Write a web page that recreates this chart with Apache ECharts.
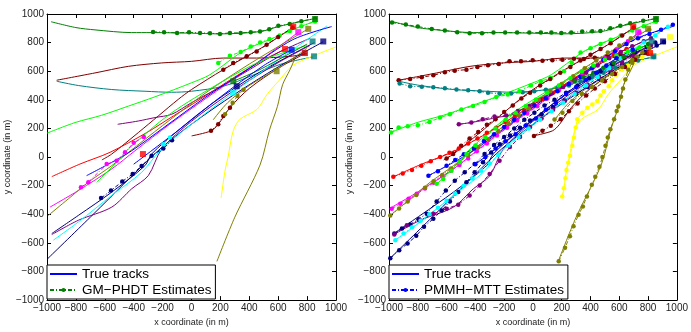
<!DOCTYPE html>
<html>
<head>
<meta charset="utf-8">
<script src="https://cdn.jsdelivr.net/npm/echarts@6/dist/echarts.min.js"></script>
<style>
  html, body { margin: 0; padding: 0; background: #fff; }
  #chart { width: 691px; height: 332px; }
</style>
</head>
<body>
<div id="chart"></div>
<script>
// axis ticks (both panels)
const xTicks = [-1000, -800, -600, -400, -200, 0, 200, 400, 600, 800, 1000];
const yTicks = [-1000, -800, -600, -400, -200, 0, 200, 400, 600, 800, 1000];

// ---- true tracks, [x, y] in m ----
const trkDarkGreen = [[-972,946],[-800,905],[-668,889],[-414,870],[-276,870],[0,866],[197,861],[474,877],[601,912],[751,947],[855,968]];
const trkDarkRed = [[-933,537],[-668,588],[-437,634],[-206,658],[0,669],[220,692],[451,692],[682,704],[800,722]];
const trkTeal = [[-933,530],[-783,500],[-552,472],[-322,460],[-137,453],[0,460],[220,495],[420,570],[620,650],[840,700]];
const trkLime = [[-1000,167],[-806,241],[-622,292],[-437,356],[-253,421],[0,519],[128,576],[336,727],[451,785],[566,831],[682,884],[855,950]];
const trkBrown = [[-620,-20],[-552,21],[-368,171],[-230,287],[-92,403],[0,472],[220,611],[382,704],[520,785],[700,905]];
const trkRed = [[-967,-137],[-772,-49],[-564,33],[-310,171],[-126,287],[59,403],[300,560],[500,680],[650,755]];
const trkPurple = [[-511,229],[-368,252],[-253,276],[-137,299],[0,380],[200,490],[400,610],[600,730],[820,830]];
const trkNavy = [[-995,-710],[-700,-420],[-400,-120],[-218,56],[0,230],[300,440],[600,630],[910,805]];
const trkNavy2 = [[-967,-535],[-783,-408],[-552,-245],[-322,-60],[-276,21],[-100,180],[150,380],[450,580],[700,720],[850,800]];
const trkPurple2 = [[-967,-542],[-783,-442],[-552,-350],[-414,-222],[-299,-130],[-206,56],[0,250],[300,470],[600,660],[820,780]];
const trkCyan = [[-956,-581],[-783,-454],[-552,-268],[-345,-107],[-218,44],[0,230],[300,460],[600,680],[938,917]];
const trkMagenta = [[-979,-350],[-783,-234],[-552,-83],[-391,44],[-150,230],[100,410],[400,620],[740,873]];
const trkOlive2 = [[-991,-408],[-852,-292],[-714,-176],[-552,-60],[-437,32],[-200,220],[100,450],[400,650],[808,896]];
const trkBlue = [[-726,-130],[-552,-37],[-414,44],[-200,200],[100,420],[400,620],[700,820],[970,912]];
const trkLime2 = [[-656,-176],[-507,-26],[-437,56],[-150,300],[200,520],[500,680],[800,780]];
const trkYellow = [[205,-285],[233,-90],[253,0],[288,181],[335,264],[453,333],[522,437],[612,542],[700,640],[850,710],[1000,770]];
const trkOlive = [[176,-729],[300,-420],[474,-56],[540,190],[595,355],[630,505],[682,611],[720,700]];
const trkDarkRed2 = [[1,148],[135,183],[185,229],[266,345],[400,480],[600,620],[790,727]];
const trkOlive3 = [[150,260],[250,380],[400,500],[600,620],[800,760]];
const trkDarkGreen2 = [[289,530],[450,600],[600,680],[800,790]];
const trkBlue2 = [[-400,-50],[-100,180],[200,420],[500,640],[693,750]];

// ---- PMMH-MTT estimates (right panel) ----
const estRDarkGreen = [[-979,940],[-883,926],[-800,912],[-703,896],[-612,884],[-526,873],[-440,866],[-354,866],[-274,870],[-193,870],[-110,870],[-25,870],[55,870],[128,870],[197,868],[266,870],[342,878],[412,880],[469,882],[538,900],[607,917],[676,935],[766,953],[855,968]];
const estRDarkRed = [[-933,537],[-853,546],[-772,558],[-692,572],[-612,592],[-543,604],[-462,611],[-386,630],[-312,641],[-237,651],[-163,669],[-83,669],[-2,676],[66,674],[135,676],[205,680],[285,688],[354,685],[430,695],[515,704],[607,715],[700,712],[800,722]];
const estRTeal = [[-926,514],[-853,495],[-772,491],[-692,488],[-612,481],[-531,472],[-450,467],[-370,460],[-312,449],[-232,444],[-152,444],[-71,453],[9,460],[90,470],[170,482],[250,500],[330,530],[410,560],[490,590],[570,625],[650,650],[730,675],[840,700]];
const estRLime = [[-986,171],[-933,206],[-870,215],[-800,222],[-719,245],[-646,276],[-577,299],[-497,333],[-416,356],[-336,384],[-255,419],[-175,437],[-94,460],[-14,500],[55,530],[124,553],[216,600],[270,660],[331,731],[400,760],[470,790],[540,820],[610,850],[690,885],[770,915],[855,945]];
const estRBrown = [[-600,-10],[-554,21],[-499,79],[-440,130],[-380,175],[-320,225],[-260,265],[-200,315],[-140,360],[-80,410],[-20,450],[50,500],[120,545],[190,590],[260,630],[330,675],[400,715],[470,755],[540,795],[620,850],[700,905]];
const estRRed = [[-970,-137],[-905,-115],[-840,-90],[-775,-60],[-710,-30],[-645,0],[-580,30],[-515,60],[-450,95],[-385,130],[-320,170],[-255,205],[-190,245],[-125,285],[-60,325],[5,365],[70,405],[140,450],[210,495],[280,545],[350,590],[420,635],[490,675],[560,715],[650,755]];
const estRPurple = [[-515,229],[-428,241],[-349,264],[-267,283],[-186,290],[-105,322],[-25,356],[50,400],[130,445],[210,490],[290,540],[370,590],[450,640],[530,690],[610,735],[690,775],[770,810],[820,830]];
const estRNavy = [[-991,-708],[-929,-651],[-871,-604],[-811,-551],[-757,-488],[-692,-431],[-634,-373],[-577,-310],[-519,-245],[-462,-176],[-405,-107],[-347,-37],[-290,32],[-230,90],[-160,150],[-90,205],[-20,255],[60,300],[140,350],[220,395],[300,440],[380,490],[460,545],[540,595],[620,645],[700,690],[780,735],[860,780],[910,805]];
const estRNavy2 = [[-963,-535],[-910,-500],[-853,-472],[-795,-435],[-738,-396],[-669,-310],[-605,-234],[-543,-165],[-474,-107],[-405,-49],[-336,21],[-270,85],[-200,140],[-130,200],[-60,260],[10,310],[80,360],[150,400],[230,450],[310,500],[390,550],[470,600],[550,650],[630,690],[710,730],[790,770],[850,800]];
const estRPurple2 = [[-963,-542],[-876,-477],[-784,-442],[-692,-396],[-600,-361],[-519,-333],[-440,-269],[-370,-199],[-301,-118],[-232,-26],[-160,70],[-90,140],[-20,210],[60,270],[140,330],[220,390],[300,450],[380,505],[460,560],[540,610],[620,660],[700,710],[820,780]];
const estRCyan = [[-956,-581],[-899,-535],[-840,-490],[-780,-445],[-720,-400],[-660,-355],[-600,-305],[-540,-255],[-480,-200],[-420,-150],[-360,-95],[-300,-45],[-240,15],[-170,80],[-100,140],[-30,200],[50,260],[130,320],[210,380],[290,440],[370,500],[450,560],[530,620],[610,690],[690,750],[770,800],[850,850],[938,910]];
const estRMagenta = [[-981,-361],[-922,-326],[-864,-292],[-807,-257],[-750,-220],[-690,-180],[-630,-135],[-570,-95],[-510,-55],[-450,-10],[-390,40],[-320,95],[-250,150],[-180,205],[-110,255],[-40,305],[30,355],[100,410],[180,465],[260,520],[340,575],[420,630],[500,690],[580,750],[660,810],[740,870]];
const estROlive2 = [[-991,-408],[-930,-360],[-870,-310],[-810,-265],[-750,-215],[-690,-170],[-630,-125],[-570,-80],[-510,-35],[-450,15],[-380,70],[-310,125],[-240,180],[-170,235],[-100,290],[-30,340],[40,400],[120,460],[200,510],[280,565],[360,620],[440,675],[520,730],[600,780],[680,830],[808,890]];
const estRBlue = [[-726,-130],[-660,-100],[-600,-60],[-540,-20],[-480,20],[-410,60],[-340,110],[-270,160],[-200,210],[-130,260],[-60,310],[10,360],[90,410],[170,460],[250,510],[330,560],[410,620],[490,680],[570,740],[650,790],[730,830],[810,860],[890,890],[972,924]];
const estRLime2 = [[-669,-187],[-623,-153],[-566,-95],[-508,-37],[-462,21],[-400,80],[-330,140],[-260,200],[-190,260],[-120,310],[-50,355],[20,400],[100,450],[180,500],[260,550],[340,600],[420,640],[500,680],[580,710],[660,740],[740,765],[800,780]];
const estRYellow = [[203,-275],[215,-218],[226,-148],[233,-90],[245,-40],[258,9],[274,79],[285,137],[297,206],[308,264],[343,310],[378,345],[412,368],[447,391],[469,430],[492,460],[527,495],[550,537],[580,575],[620,610],[660,640],[700,670],[760,700],[820,730]];
const estROlive = [[179,-729],[223,-634],[257,-553],[282,-484],[317,-403],[347,-345],[375,-275],[409,-194],[433,-137],[462,-67],[483,0],[504,79],[520,137],[538,194],[564,264],[582,322],[593,354],[612,421],[626,479],[642,542],[662,611],[690,660],[720,700]];
const estRDarkRed2 = [[7,148],[66,183],[124,218],[193,264],[250,320],[310,375],[370,430],[430,480],[500,530],[570,580],[640,630],[710,680],[790,727]];
const estROlive3 = [[150,262],[205,310],[274,391],[340,440],[410,490],[480,535],[550,580],[620,630],[690,680],[760,730],[808,760]];
const estRDarkGreen2 = [[289,530],[350,560],[420,590],[490,625],[560,660],[630,700],[700,740],[800,790]];
const estRBlue2 = [[-400,-50],[-330,0],[-260,60],[-190,110],[-120,160],[-50,220],[20,270],[90,330],[160,380],[230,440],[300,490],[370,540],[440,590],[510,640],[580,690],[693,750]];

// ---- GM-PHDT estimates (left panel, only partly found) ----
const estLDarkGreen = [[-266,875],[-190,873],[-100,868],[-17,872],[59,868],[128,866],[197,861],[266,868],[340,868],[410,873],[474,877],[538,893],[601,917],[680,930],[760,950],[855,968]];
const estLLime = [[185,658],[266,708],[340,735],[410,772],[475,800],[540,825],[610,850],[680,882],[760,915],[855,948]];
const estLBrown = [[220,611],[289,658],[382,704],[451,738],[520,785],[600,840],[700,905]];
const estLNavy2 = [[-626,-287],[-557,-234],[-479,-171],[-407,-118],[-345,-62],[-276,9],[-195,60],[-135,118]];
const estLMagenta = [[-765,-211],[-714,-176],[-587,-49],[-518,-26],[-460,33],[-400,100],[-330,140]];
const estLCyan = [[-195,90],[-149,137]];
const estLDarkRed2 = [[135,183],[185,229],[220,287],[266,345]];
const estLOlive3 = [[232,300],[285,380],[318,426],[360,470]];

// track end squares
const squaresLeft = [[-336,21],[289,530],[313,495],[589,600],[647,755],[693,750],[704,912],[739,873],[785,727],[808,896],[838,808],[848,704],[855,965],[912,808],[289,449]];
const squaresLeftColors = ['#ff0000','#008000','#000080','#808000','#ff0000','#0000ff','#ff0000','#ff00ff','#c00000','#808000','#008080','#008080','#008000','#000080','#00ffff'];
const squaresRight = [[697,912],[731,873],[800,896],[824,808],[904,808],[837,704],[814,727],[952,838],[855,965]];
const squaresRightColors = ['#ff0000','#ff00ff','#808000','#008080','#000080','#008080','#ff0000','#ffff00','#008000'];

const tracks = [
  { color: '#008000', path: trkDarkGreen, estR: estRDarkGreen, estL: estLDarkGreen },
  { color: '#800000', path: trkDarkRed, estR: estRDarkRed },
  { color: '#008080', path: trkTeal, estR: estRTeal },
  { color: '#00ff00', path: trkLime, estR: estRLime, estL: estLLime },
  { color: '#800000', path: trkBrown, estR: estRBrown, estL: estLBrown },
  { color: '#ff0000', path: trkRed, estR: estRRed },
  { color: '#800080', path: trkPurple, estR: estRPurple },
  { color: '#000080', path: trkNavy, estR: estRNavy },
  { color: '#000080', path: trkNavy2, estR: estRNavy2, estL: estLNavy2 },
  { color: '#800080', path: trkPurple2, estR: estRPurple2 },
  { color: '#00ffff', path: trkCyan, estR: estRCyan, estL: estLCyan },
  { color: '#ff00ff', path: trkMagenta, estR: estRMagenta, estL: estLMagenta },
  { color: '#808000', path: trkOlive2, estR: estROlive2 },
  { color: '#0000ff', path: trkBlue, estR: estRBlue },
  { color: '#00ff00', path: trkLime2, estR: estRLime2 },
  { color: '#ffff00', path: trkYellow, estR: estRYellow },
  { color: '#808000', path: trkOlive, estR: estROlive },
  { color: '#800000', path: trkDarkRed2, estR: estRDarkRed2, estL: estLDarkRed2 },
  { color: '#808000', path: trkOlive3, estR: estROlive3, estL: estLOlive3 },
  { color: '#008000', path: trkDarkGreen2, estR: estRDarkGreen2 },
  { color: '#0000ff', path: trkBlue2, estR: estRBlue2 }
];

const FONT = '"Liberation Sans", Arial, sans-serif';
const minus = v => String(v).replace('-', '\u2212');
const dashDot = [4, 2, 1, 2];

function xAxes(gi) {
  return [
    {
      gridIndex: gi, type: 'value', position: 'bottom',
      min: xTicks[0], max: xTicks[xTicks.length - 1], interval: xTicks[1] - xTicks[0],
      name: 'x coordinate (in m)', nameLocation: 'middle', nameGap: 14,
      nameTextStyle: { fontFamily: FONT, fontSize: 9, color: '#222' },
      axisLine: { onZero: false, lineStyle: { color: '#000', width: 1 } },
      axisTick: { inside: true, length: 4, lineStyle: { color: '#000' } },
      axisLabel: { fontFamily: FONT, fontSize: 10, color: '#222', margin: 3, formatter: minus },
      splitLine: { show: false }
    },
    {
      gridIndex: gi, type: 'value', position: 'top',
      min: xTicks[0], max: xTicks[xTicks.length - 1], interval: xTicks[1] - xTicks[0],
      axisLine: { onZero: false, lineStyle: { color: '#000', width: 1 } },
      axisTick: { inside: true, length: 4, lineStyle: { color: '#000' } },
      axisLabel: { show: false }, splitLine: { show: false }
    }
  ];
}

function yAxes(gi) {
  return [
    {
      gridIndex: gi, type: 'value', position: 'left',
      min: yTicks[0], max: yTicks[yTicks.length - 1], interval: yTicks[1] - yTicks[0],
      name: 'y coordinate (in m)', nameLocation: 'middle', nameGap: 31,
      nameTextStyle: { fontFamily: FONT, fontSize: 9, color: '#222' },
      axisLine: { onZero: false, lineStyle: { color: '#000', width: 1 } },
      axisTick: { inside: true, length: 4, lineStyle: { color: '#000' } },
      axisLabel: { fontFamily: FONT, fontSize: 10, color: '#222', margin: 3, formatter: minus },
      splitLine: { show: false }
    },
    {
      gridIndex: gi, type: 'value', position: 'right',
      min: yTicks[0], max: yTicks[yTicks.length - 1], interval: yTicks[1] - yTicks[0],
      axisLine: { onZero: false, lineStyle: { color: '#000', width: 1 } },
      axisTick: { inside: true, length: 4, lineStyle: { color: '#000' } },
      axisLabel: { show: false }, splitLine: { show: false }
    }
  ];
}

const series = [];

// true tracks in both panels
[0, 1].forEach(gi => {
  tracks.forEach(t => {
    series.push({
      type: 'line', xAxisIndex: gi * 2, yAxisIndex: gi * 2,
      data: t.path, smooth: 0.3, symbol: 'none', silent: true, z: 2,
      lineStyle: { color: t.color, width: 1 }
    });
  });
});

function estSeries(pts, color, gi) {
  return {
    type: 'line', xAxisIndex: gi * 2, yAxisIndex: gi * 2,
    data: pts, symbol: 'circle', symbolSize: 4.5, showAllSymbol: true, silent: true, z: 3,
    itemStyle: { color: color },
    lineStyle: { color: color, width: 1, type: dashDot }
  };
}

tracks.forEach(t => {
  if (t.estL) series.push(estSeries(t.estL, t.color, 0));
  series.push(estSeries(t.estR, t.color, 1));
});

function squareSeries(pts, colors, gi) {
  return {
    type: 'scatter', xAxisIndex: gi * 2, yAxisIndex: gi * 2, silent: true, z: 4,
    symbol: 'rect', symbolSize: 6,
    data: pts.map((p, i) => ({ value: p, itemStyle: { color: colors[i] } }))
  };
}
series.push(squareSeries(squaresLeft, squaresLeftColors, 0));
series.push(squareSeries(squaresRight, squaresRightColors, 1));

// legend entries (empty series)
series.push({
  name: 'True tracks', type: 'line', data: [], symbol: 'none',
  itemStyle: { color: '#0000ff' }, lineStyle: { color: '#0000ff', width: 1 }
});
series.push({
  name: 'GM\u2212PHDT Estimates', type: 'line', data: [], symbol: 'circle',
  itemStyle: { color: '#008000' }, lineStyle: { color: '#008000', width: 1, type: dashDot }
});
series.push({
  name: 'PMMH\u2212MTT Estimates', type: 'line', data: [], symbol: 'circle',
  itemStyle: { color: '#0000ff' }, lineStyle: { color: '#0000ff', width: 1, type: dashDot }
});

function legendAt(left, estName) {
  return {
    data: [
      { name: 'True tracks', itemStyle: { opacity: 0 } },
      { name: estName }
    ],
    left: left, top: 265, orient: 'vertical', selectedMode: false,
    itemWidth: 27, itemHeight: 5, itemGap: 2, padding: [2, 4, 2, 2],
    backgroundColor: '#fff', borderColor: '#000', borderWidth: 1,
    textStyle: { fontFamily: FONT, fontSize: 13.5, color: '#000' }
  };
}

const chart = echarts.init(document.getElementById('chart'), null, { renderer: 'canvas' });
chart.setOption({
  animation: false,
  backgroundColor: '#fff',
  grid: [
    { left: 47, right: 355, top: 14, bottom: 30 },
    { left: 389, right: 12, top: 14, bottom: 30 }
  ],
  xAxis: xAxes(0).concat(xAxes(1)),
  yAxis: yAxes(0).concat(yAxes(1)),
  legend: [
    legendAt(47, 'GM\u2212PHDT Estimates'),
    legendAt(389, 'PMMH\u2212MTT Estimates')
  ],
  series: series
});
</script>
</body>
</html>
